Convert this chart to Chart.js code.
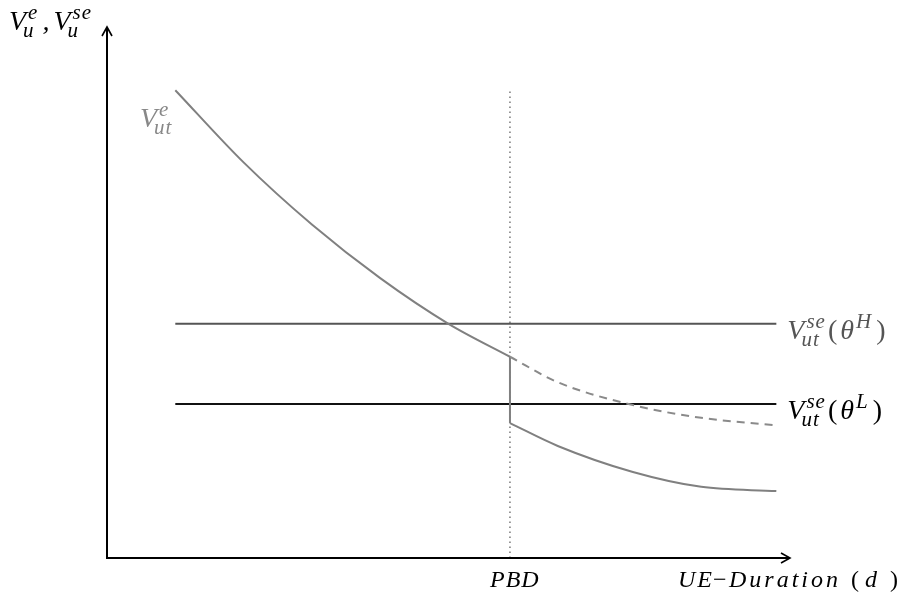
<!DOCTYPE html>
<html>
<head>
<meta charset="utf-8">
<script src="https://cdn.jsdelivr.net/npm/chart.js@4/dist/chart.umd.min.js"></script>
<style>
  html, body { margin: 0; padding: 0; background: #fff; }
  #wrap { width: 904px; height: 603px; }
</style>
</head>
<body>
<div id="wrap"><canvas id="c" width="904" height="603"></canvas></div>
<script>
// UE duration axis (arbitrary units 0..100), PBD = benefit exhaustion point
const pbd = 59;
const durations = [10, 20, 30, 40, 50, 59];
const valueBefore = [88.1, 74.5, 62.8, 52.7, 44.1, 37.9];     // V^e_ut up to PBD
const durationsAfter = [59, 66, 77, 87, 98];
const valueNoExhaust = [37.9, 33.1, 28.8, 26.4, 25.0];        // dashed continuation
const valueAfter = [25.4, 21.1, 16.2, 13.4, 12.6];            // after benefits end
const lineStart = 10, lineEnd = 98;
const selfEmpHigh = 44.1;   // V^se_ut(theta^H)
const selfEmpLow = 29.0;    // V^se_ut(theta^L)
const pbdTop = 88;

const pts = (xs, ys) => xs.map((x, i) => ({ x: x, y: ys[i] }));

const serif = '"Liberation Serif", serif';

// draw text one char at a time with extra gap (math italic look)
function spaced(ctx, text, x, y, gap) {
    for (const ch of text) {
        ctx.fillText(ch, x, y);
        x += ctx.measureText(ch).width + gap;
    }
    return x;
}

// draws V with superscript / subscript, returns x where it ends
function drawV(ctx, x, y, sup, sub, size, color) {
    ctx.fillStyle = color;
    ctx.textBaseline = 'alphabetic';
    ctx.textAlign = 'left';
    ctx.font = 'italic ' + size + 'px ' + serif;
    ctx.fillText('V', x, y);
    const w = ctx.measureText('V').width;
    const small = Math.round(size * 0.74);
    ctx.font = 'italic ' + small + 'px ' + serif;
    const e1 = spaced(ctx, sup, x + w + 2, y - size * 0.4, 1);
    const e2 = spaced(ctx, sub, x + w - 3, y + size * 0.26, 1);
    return Math.max(e1, e2);
}

function drawTheta(ctx, x, y, letter, size, color) {
    ctx.fillStyle = color;
    ctx.font = size + 'px ' + serif;
    ctx.fillText('(', x + 2, y);
    let cx = x + 2 + ctx.measureText('(').width + 3;
    ctx.font = 'italic ' + size + 'px ' + serif;
    ctx.fillText('θ', cx, y);
    cx += ctx.measureText('θ').width;
    const small = Math.round(size * 0.74);
    ctx.font = 'italic ' + small + 'px ' + serif;
    ctx.fillText(letter, cx + 2, y - size * 0.4);
    cx += ctx.measureText(letter).width + 7;
    ctx.font = size + 'px ' + serif;
    ctx.fillText(')', cx, y);
}

const axesPlugin = {
    id: 'axesPlugin',
    afterDraw(chart) {
        const ctx = chart.ctx;
        const a = chart.chartArea;
        const xs = chart.scales.x, ys = chart.scales.y;
        ctx.save();
        ctx.strokeStyle = '#000';
        ctx.lineWidth = 2;
        ctx.beginPath();
        ctx.moveTo(a.left, a.top);
        ctx.lineTo(a.left, a.bottom);
        ctx.lineTo(a.right, a.bottom);
        ctx.stroke();
        // arrow heads
        ctx.lineWidth = 1.6;
        ctx.beginPath();
        ctx.moveTo(a.left - 5, a.top + 9);
        ctx.lineTo(a.left, a.top);
        ctx.lineTo(a.left + 5, a.top + 9);
        ctx.moveTo(a.right - 9, a.bottom - 5);
        ctx.lineTo(a.right, a.bottom);
        ctx.lineTo(a.right - 9, a.bottom + 5);
        ctx.stroke();

        // y axis label
        let ex = drawV(ctx, 9, 30, 'e', 'u', 28, '#000');
        ctx.font = 'italic 28px ' + serif;
        ctx.fillText(',', ex + 4, 30);
        drawV(ctx, ex + 15, 30, 'se', 'u', 28, '#000');

        // x axis labels
        ctx.fillStyle = '#000';
        ctx.textAlign = 'left';
        ctx.font = 'italic 24px ' + serif;
        spaced(ctx, 'PBD', xs.getPixelForValue(pbd) - 20, 587, 1);
        spaced(ctx, 'UE', 678, 587, 2);
        spaced(ctx, 'Duration', 729, 587, 3);
        ctx.fillText('d', 865, 587);
        ctx.font = '24px ' + serif;
        ctx.fillText('\u2212', 713, 587);
        ctx.fillText('(', 851, 587);
        ctx.fillText(')', 890, 587);

        // curve labels
        drawV(ctx, 140, 127, 'e', 'ut', 28, '#888');
        const lx = xs.getPixelForValue(lineEnd) + 11;
        const hy = ys.getPixelForValue(selfEmpHigh) + 15;
        let hx = drawV(ctx, lx, hy, 'se', 'ut', 28, '#555');
        drawTheta(ctx, hx, hy, 'H', 28, '#555');
        const ly = ys.getPixelForValue(selfEmpLow) + 15;
        let lx2 = drawV(ctx, lx, ly, 'se', 'ut', 28, '#000');
        drawTheta(ctx, lx2, ly, 'L', 28, '#000');
        ctx.restore();
    }
};

new Chart(document.getElementById('c').getContext('2d'), {
    type: 'line',
    data: {
        datasets: [
            {
                data: pts(durations, valueBefore),
                borderColor: '#808080', borderWidth: 2,
                cubicInterpolationMode: 'monotone'
            },
            {
                data: pts(durationsAfter, valueNoExhaust),
                borderColor: '#8a8a8a', borderWidth: 2, borderDash: [8, 6],
                cubicInterpolationMode: 'monotone'
            },
            {
                data: pts(durationsAfter, valueAfter),
                borderColor: '#808080', borderWidth: 2,
                cubicInterpolationMode: 'monotone'
            },
            {
                data: [{ x: pbd, y: valueBefore[valueBefore.length - 1] }, { x: pbd, y: valueAfter[0] }],
                borderColor: '#808080', borderWidth: 2
            },
            {
                data: [{ x: lineStart, y: selfEmpHigh }, { x: lineEnd, y: selfEmpHigh }],
                borderColor: '#555555', borderWidth: 2
            },
            {
                data: [{ x: lineStart, y: selfEmpLow }, { x: lineEnd, y: selfEmpLow }],
                borderColor: '#111111', borderWidth: 2
            },
            {
                data: [{ x: pbd, y: 0 }, { x: pbd, y: pbdTop }],
                borderColor: '#333333', borderWidth: 1, borderDash: [1.5, 3.5]
            }
        ]
    },
    options: {
        responsive: false,
        animation: false,
        maintainAspectRatio: false,
        layout: { padding: { left: 107, right: 114, top: 27, bottom: 45 } },
        elements: { point: { radius: 0 } },
        plugins: { legend: { display: false }, tooltip: { enabled: false } },
        scales: {
            x: { type: 'linear', min: 0, max: 100, display: false },
            y: { min: 0, max: 100, display: false }
        }
    },
    plugins: [axesPlugin]
});
</script>
</body>
</html>
